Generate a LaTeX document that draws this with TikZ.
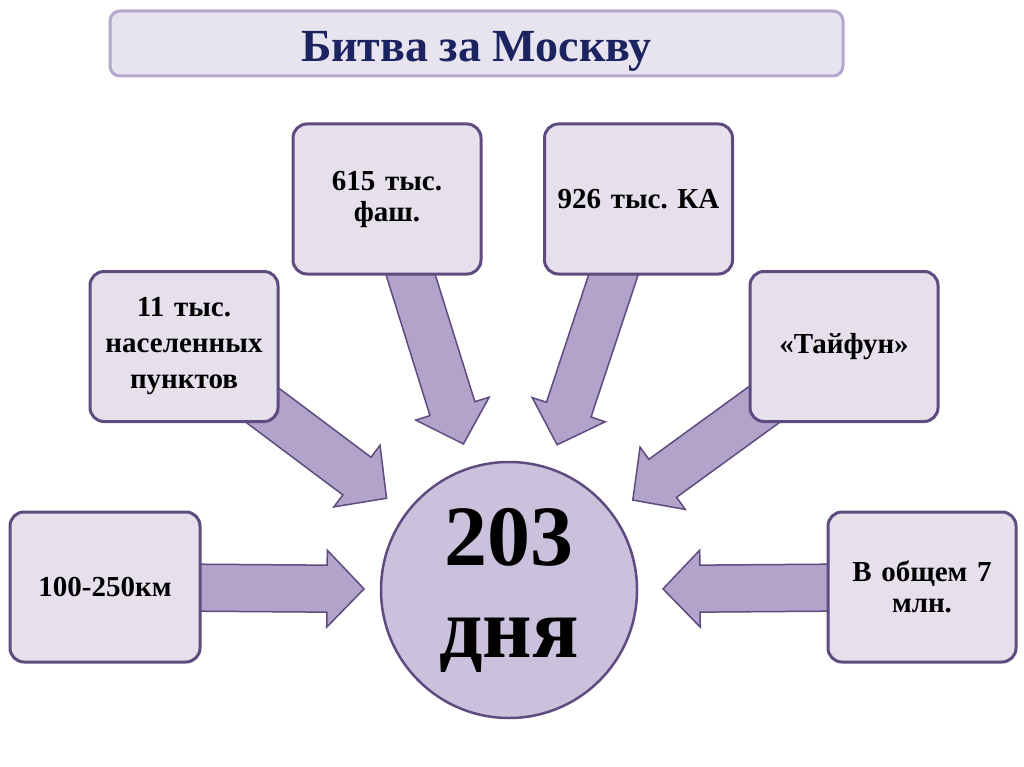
\documentclass[tikz,border=0pt]{standalone}
\usepackage{fontspec}
\setmainfont{Liberation Serif}
\frenchspacing
\usetikzlibrary{calc}
\definecolor{boxfill}{HTML}{E6E0EC}
\definecolor{boxdraw}{HTML}{5F4B7F}
\definecolor{circfill}{HTML}{CBC1DD}
\definecolor{arrfill}{HTML}{B1A3C9}
\definecolor{titlefill}{HTML}{E7E3EF}
\definecolor{titledraw}{HTML}{B3A7CB}
\definecolor{titletext}{HTML}{1B2460}
\pgfdeclarelayer{back}
\pgfdeclarelayer{bg}
\pgfsetlayers{back,bg,main}
\newcommand{\blockarrow}[2]{%
  \coordinate (hb) at ($(#2)!37pt!(#1)$);
  \draw[arrshape] ($(#1)!23.5pt!90:(#2)$) -- ($(hb)!23.5pt!90:(#2)$) -- ($(hb)!38.5pt!90:(#2)$) -- (#2)
     -- ($(hb)!38.5pt!-90:(#2)$) -- ($(hb)!23.5pt!-90:(#2)$) -- ($(#1)!23.5pt!-90:(#2)$) -- cycle;}
\tikzset{
  infobox/.style={draw=boxdraw, fill=boxfill, line width=3pt, rounded corners=14pt,
     minimum width=188pt, minimum height=150pt, text width=180pt, align=center,
     font=\bfseries\fontsize{29}{31}\selectfont, inner sep=0pt},
  arrshape/.style={draw=boxdraw, fill=arrfill, line width=1.5pt, line join=miter},
  titlebox/.style={draw=titledraw, fill=titlefill, line width=3pt, rounded corners=10pt,
     minimum width=733pt, minimum height=65pt, text=titletext, inner sep=0pt,
     text height=37pt, text depth=0pt,
     font=\bfseries\fontsize{46}{50}\selectfont},
  hub/.style={circle, draw=boxdraw, fill=circfill, line width=2.5pt, minimum size=256pt,
     align=center, font=\bfseries\fontsize{86}{92}\selectfont, inner sep=0pt}
}
\begin{document}
\begin{tikzpicture}[x=1pt,y=-1pt]
\begin{pgfonlayer}{back}
\useasboundingbox[fill=white] (0,0) rectangle (1024,767);
\end{pgfonlayer}
\node[titlebox] (title) at (476.5,43.5) {Битва за Москву};
\node[infobox] (b615) at (387,199) {615 тыс.\\фаш.};
\node[infobox] (b926) at (638.5,199) {926 тыс. КА};
\node[infobox, font=\bfseries\fontsize{29}{36}\selectfont] (b11) at (184,346.5) {11 тыс.\\населенных\\пунктов};
\node[infobox] (bT) at (844,346.5) {«Тайфун»};
\node[infobox, minimum width=190pt] (b100) at (105,587) {100-250км};
\node[infobox] (b7) at (922,587) {В общем 7\\млн.};
\node[hub] (circ) at (509,590) {203\\дня};
\coordinate (t615) at ($(circ.center)!153pt!(b615.center)$);
\coordinate (t926) at ($(circ.center)!153pt!(b926.center)$);
\coordinate (t11) at ($(circ.center)!153pt!(b11.center)$);
\coordinate (tT) at ($(circ.center)!153pt!(bT.center)$);
\coordinate (t100) at ($(circ.center)!145pt!(b100.center)$);
\coordinate (t7) at ($(circ.center)!154pt!(b7.center)$);
\begin{pgfonlayer}{bg}
\blockarrow{b615.center}{t615}
\blockarrow{b926.center}{t926}
\blockarrow{b11.center}{t11}
\blockarrow{bT.center}{tT}
\blockarrow{b100.center}{t100}
\blockarrow{b7.center}{t7}
\end{pgfonlayer}
\end{tikzpicture}
\end{document}
